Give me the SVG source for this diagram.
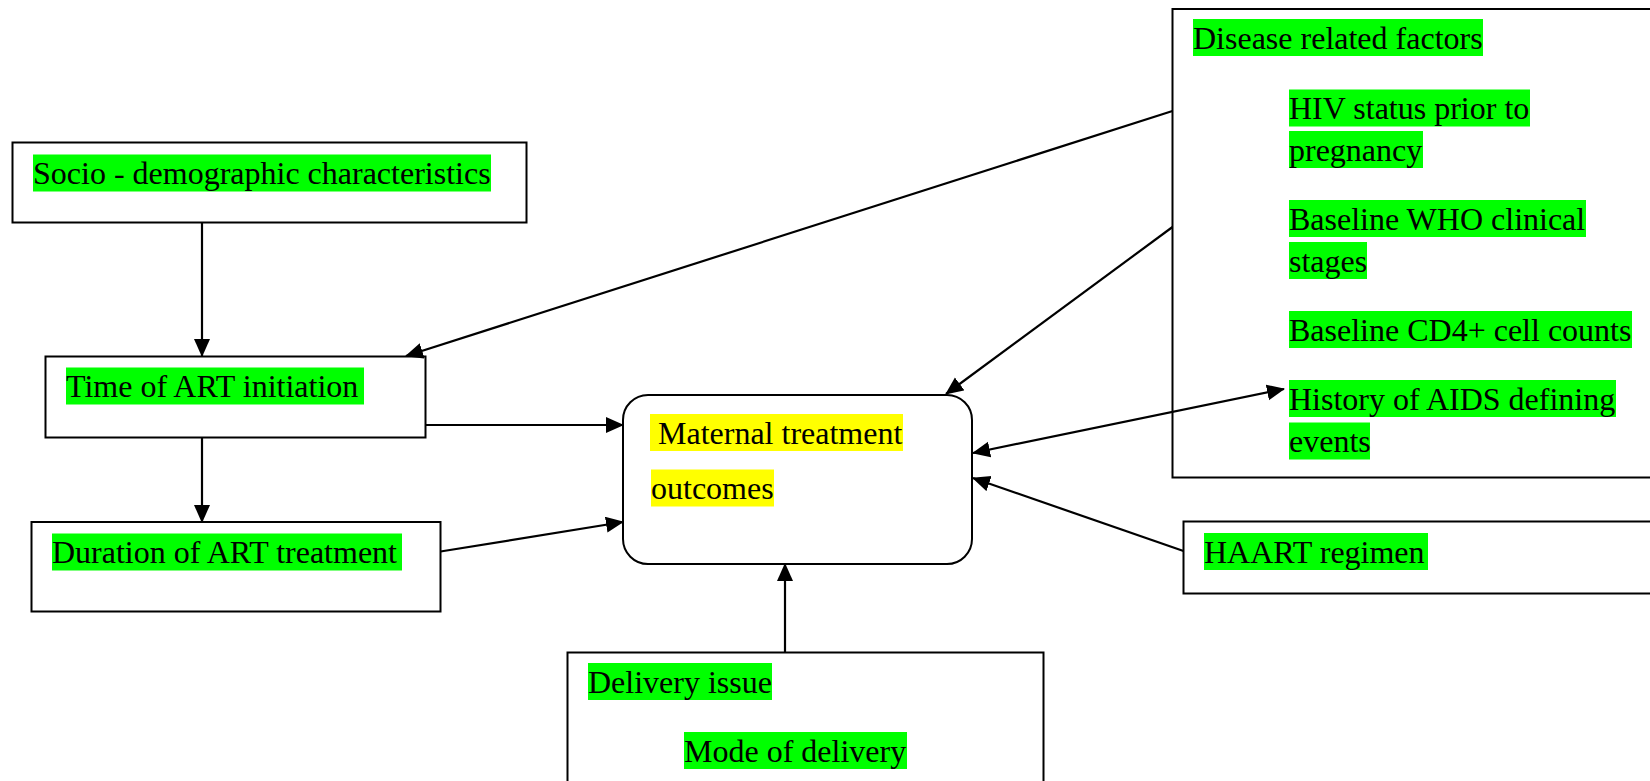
<svg xmlns="http://www.w3.org/2000/svg" width="1650" height="781" viewBox="0 0 1650 781">
<style>
.box{fill:#fff;stroke:#000;stroke-width:2}
.hl{fill:#00ff00}
.hy{fill:#ffff00}
.t{font-family:"Liberation Serif","Times New Roman",serif;font-size:32px;fill:#000}
.c{stroke:#000;stroke-width:2.2;fill:none}
</style>
<defs>
<marker id="ah" markerUnits="userSpaceOnUse" markerWidth="19" markerHeight="17" refX="17" refY="8" orient="auto-start-reverse">
<path d="M0,0 L18,8 L0,16 z" fill="#000"/>
</marker>
</defs>
<rect x="0" y="0" width="1650" height="781" fill="#fff"/>
<g id="socio">
<rect class="box" x="12.5" y="142.5" width="514" height="80"/>
<rect class="hl" x="33" y="154.5" width="458" height="37"/>
<text class="t" x="33" y="184">Socio - demographic characteristics</text>
</g>
<g id="time">
<rect class="box" x="45.5" y="356.5" width="380" height="81"/>
<rect class="hl" x="66" y="367.5" width="298" height="37"/>
<text class="t" x="66" y="397">Time of ART initiation</text>
</g>
<g id="duration">
<rect class="box" x="31.5" y="522" width="409" height="89.5"/>
<rect class="hl" x="52" y="533.5" width="350" height="37"/>
<text class="t" x="52" y="563">Duration of ART treatment</text>
</g>
<g id="maternal">
<rect class="box" x="623" y="395" width="349" height="169" rx="25" ry="25"/>
<rect class="hy" x="650" y="414" width="253" height="37"/>
<text class="t" x="658" y="444">Maternal treatment</text>
<rect class="hy" x="651" y="469.5" width="123" height="37"/>
<text class="t" x="651" y="499">outcomes</text>
</g>
<g id="disease">
<rect class="box" x="1172.5" y="9" width="490" height="468.5"/>
<rect class="hl" x="1193" y="19" width="290" height="37"/>
<text class="t" x="1193" y="49">Disease related factors</text>
<rect class="hl" x="1289" y="89.5" width="241" height="37"/>
<text class="t" x="1289" y="119">HIV status prior to</text>
<rect class="hl" x="1289" y="131" width="134" height="37"/>
<text class="t" x="1289" y="161">pregnancy</text>
<rect class="hl" x="1289" y="200" width="297" height="37"/>
<text class="t" x="1289" y="230">Baseline WHO clinical</text>
<rect class="hl" x="1289" y="242" width="78" height="37"/>
<text class="t" x="1289" y="272">stages</text>
<rect class="hl" x="1289" y="311" width="343" height="37"/>
<text class="t" x="1289" y="341">Baseline CD4+ cell counts</text>
<rect class="hl" x="1289" y="380" width="327" height="37"/>
<text class="t" x="1289" y="410">History of AIDS defining</text>
<rect class="hl" x="1289" y="422.5" width="81" height="37"/>
<text class="t" x="1289" y="452">events</text>
</g>
<g id="haart">
<rect class="box" x="1183.5" y="521.5" width="480" height="72"/>
<rect class="hl" x="1204" y="533" width="224" height="37"/>
<text class="t" x="1204" y="563">HAART regimen</text>
</g>
<g id="delivery">
<rect class="box" x="567.5" y="652.5" width="476" height="140"/>
<rect class="hl" x="588" y="663" width="184" height="37"/>
<text class="t" x="588" y="693">Delivery issue</text>
<rect class="hl" x="684" y="732" width="223" height="37"/>
<text class="t" x="684" y="762">Mode of delivery</text>
</g>
<g id="connectors">
<line class="c" x1="202" y1="222.5" x2="202" y2="356" marker-end="url(#ah)"/>
<line class="c" x1="202" y1="437.5" x2="202" y2="522" marker-end="url(#ah)"/>
<line class="c" x1="425.5" y1="425" x2="623" y2="425" marker-end="url(#ah)"/>
<line class="c" x1="440.5" y1="551.5" x2="623" y2="522" marker-end="url(#ah)"/>
<line class="c" x1="1172.5" y1="111" x2="406" y2="356" marker-end="url(#ah)"/>
<line class="c" x1="1172.5" y1="227" x2="946" y2="394" marker-end="url(#ah)"/>
<line class="c" x1="973" y1="453" x2="1284" y2="389" marker-start="url(#ah)" marker-end="url(#ah)"/>
<line class="c" x1="1183.5" y1="551" x2="973" y2="478" marker-end="url(#ah)"/>
<line class="c" x1="785" y1="652.5" x2="785" y2="564" marker-end="url(#ah)"/>
</g>
</svg>
